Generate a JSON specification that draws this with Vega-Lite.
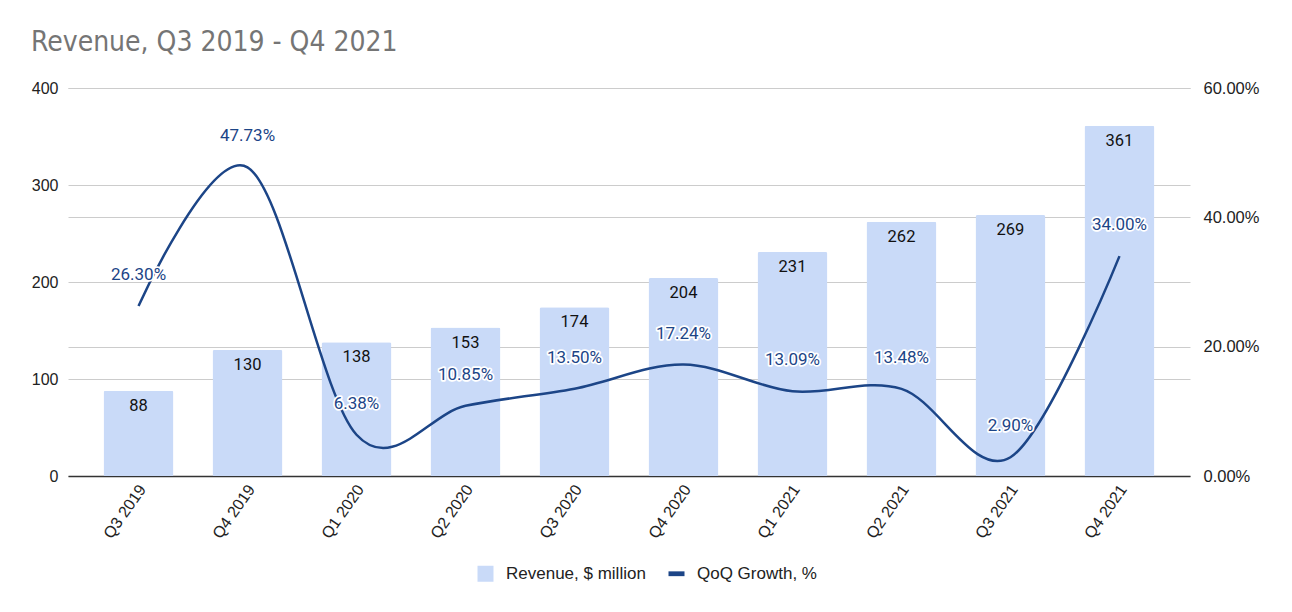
{
  "$schema": "https://vega.github.io/schema/vega-lite/v6.json",
  "width": 1122,
  "height": 388,
  "autosize": {"type": "none"},
  "padding": {"left": 68, "top": 88, "right": 102, "bottom": 136},
  "background": "white",
  "title": {
    "text": "Revenue, Q3 2019 - Q4 2021",
    "anchor": "start",
    "frame": "group",
    "dx": -37,
    "dy": 26,
    "offset": 27,
    "baseline": "alphabetic",
    "font": "DejaVu Sans Condensed, DejaVu Sans",
    "fontSize": 28,
    "fontWeight": "normal",
    "color": "#757575"
  },
  "data": {
    "values": [
      {"quarter": "Q3 2019", "revenue": 88, "growth": 0.2630},
      {"quarter": "Q4 2019", "revenue": 130, "growth": 0.4773},
      {"quarter": "Q1 2020", "revenue": 138, "growth": 0.0638},
      {"quarter": "Q2 2020", "revenue": 153, "growth": 0.1085},
      {"quarter": "Q3 2020", "revenue": 174, "growth": 0.1350},
      {"quarter": "Q4 2020", "revenue": 204, "growth": 0.1724},
      {"quarter": "Q1 2021", "revenue": 231, "growth": 0.1309},
      {"quarter": "Q2 2021", "revenue": 262, "growth": 0.1348},
      {"quarter": "Q3 2021", "revenue": 269, "growth": 0.0290},
      {"quarter": "Q4 2021", "revenue": 361, "growth": 0.3400}
    ]
  },
  "config": {
    "view": {"stroke": null},
    "axis": {
      "labelFont": "Liberation Sans",
      "labelFontSize": 16,
      "labelColor": "#222222",
      "ticks": false,
      "domain": false,
      "gridColor": "#cccccc",
      "gridWidth": 1,
      "title": null
    }
  },
  "encoding": {
    "x": {
      "field": "quarter",
      "type": "ordinal",
      "sort": null,
      "scale": {"paddingInner": 0.358, "paddingOuter": 0.326},
      "axis": {
        "labelAngle": -55,
        "labelPadding": 10,
        "labelFontSize": 16,
        "labelOffset": 4,
        "domain": true,
        "domainColor": "#333333",
        "domainWidth": 1.5,
        "grid": false
      }
    }
  },
  "layer": [
    {
      "encoding": {
        "y": {
          "field": "revenue",
          "type": "quantitative",
          "scale": {"domain": [0, 400]},
          "axis": {"values": [0, 100, 200, 300, 400], "labelPadding": 10, "grid": true}
        }
      },
      "layer": [
        {
          "mark": {"type": "bar", "cornerRadiusTopLeft": 2, "cornerRadiusTopRight": 2},
          "encoding": {
            "color": {
              "datum": "Revenue, $ million",
              "type": "nominal",
              "scale": {"domain": ["Revenue, $ million", "QoQ Growth, %"], "range": ["#c9daf8", "#1c4587"]},
              "legend": {
                "title": null,
                "orient": "none",
                "legendX": 409,
                "legendY": 477,
                "direction": "horizontal",
                "labelFont": "Liberation Sans",
                "labelFontSize": 17,
                "labelColor": "#222222",
                "labelOffset": 12,
                "columnPadding": 22,
                "symbolSize": 256,
                "encode": {
                  "symbols": {
                    "update": {
                      "shape": {"signal": "datum.value === 'QoQ Growth, %' ? 'M-1,-0.3H1V0.3H-1Z' : 'square'"},
                      "fill": {"scale": "color", "field": "value"},
                      "stroke": {"value": "transparent"},
                      "strokeWidth": {"value": 0},
                      "opacity": {"value": 1}
                    }
                  }
                }
              }
            }
          }
        },
        {
          "mark": {"type": "text", "baseline": "middle", "dy": 15, "font": "Roboto", "fontSize": 16.5, "color": "#111111"},
          "encoding": {"text": {"field": "revenue", "type": "quantitative"}}
        }
      ]
    },
    {
      "encoding": {
        "y": {
          "field": "growth",
          "type": "quantitative",
          "scale": {"domain": [0, 0.6]},
          "axis": {"orient": "right", "values": [0, 0.2, 0.4, 0.6], "format": ".2%", "labelPadding": 13, "labelFontSize": 16.5, "grid": true}
        }
      },
      "layer": [
        {
          "mark": {"type": "line", "interpolate": "cardinal", "strokeWidth": 2.5},
          "encoding": {
            "color": {"datum": "QoQ Growth, %", "type": "nominal"}
          }
        },
        {
          "mark": {"type": "text", "baseline": "middle", "dy": -31, "font": "Roboto", "fontSize": 17, "fill": "#1c4587", "stroke": "white", "strokeWidth": 3.5, "strokeJoin": "round"},
          "encoding": {"text": {"field": "growth", "type": "quantitative", "format": ".2%"}}
        },
        {
          "mark": {"type": "text", "baseline": "middle", "dy": -31, "font": "Roboto", "fontSize": 17, "fill": "#1c4587"},
          "encoding": {"text": {"field": "growth", "type": "quantitative", "format": ".2%"}}
        }
      ]
    }
  ],
  "resolve": {"scale": {"y": "independent"}}
}
